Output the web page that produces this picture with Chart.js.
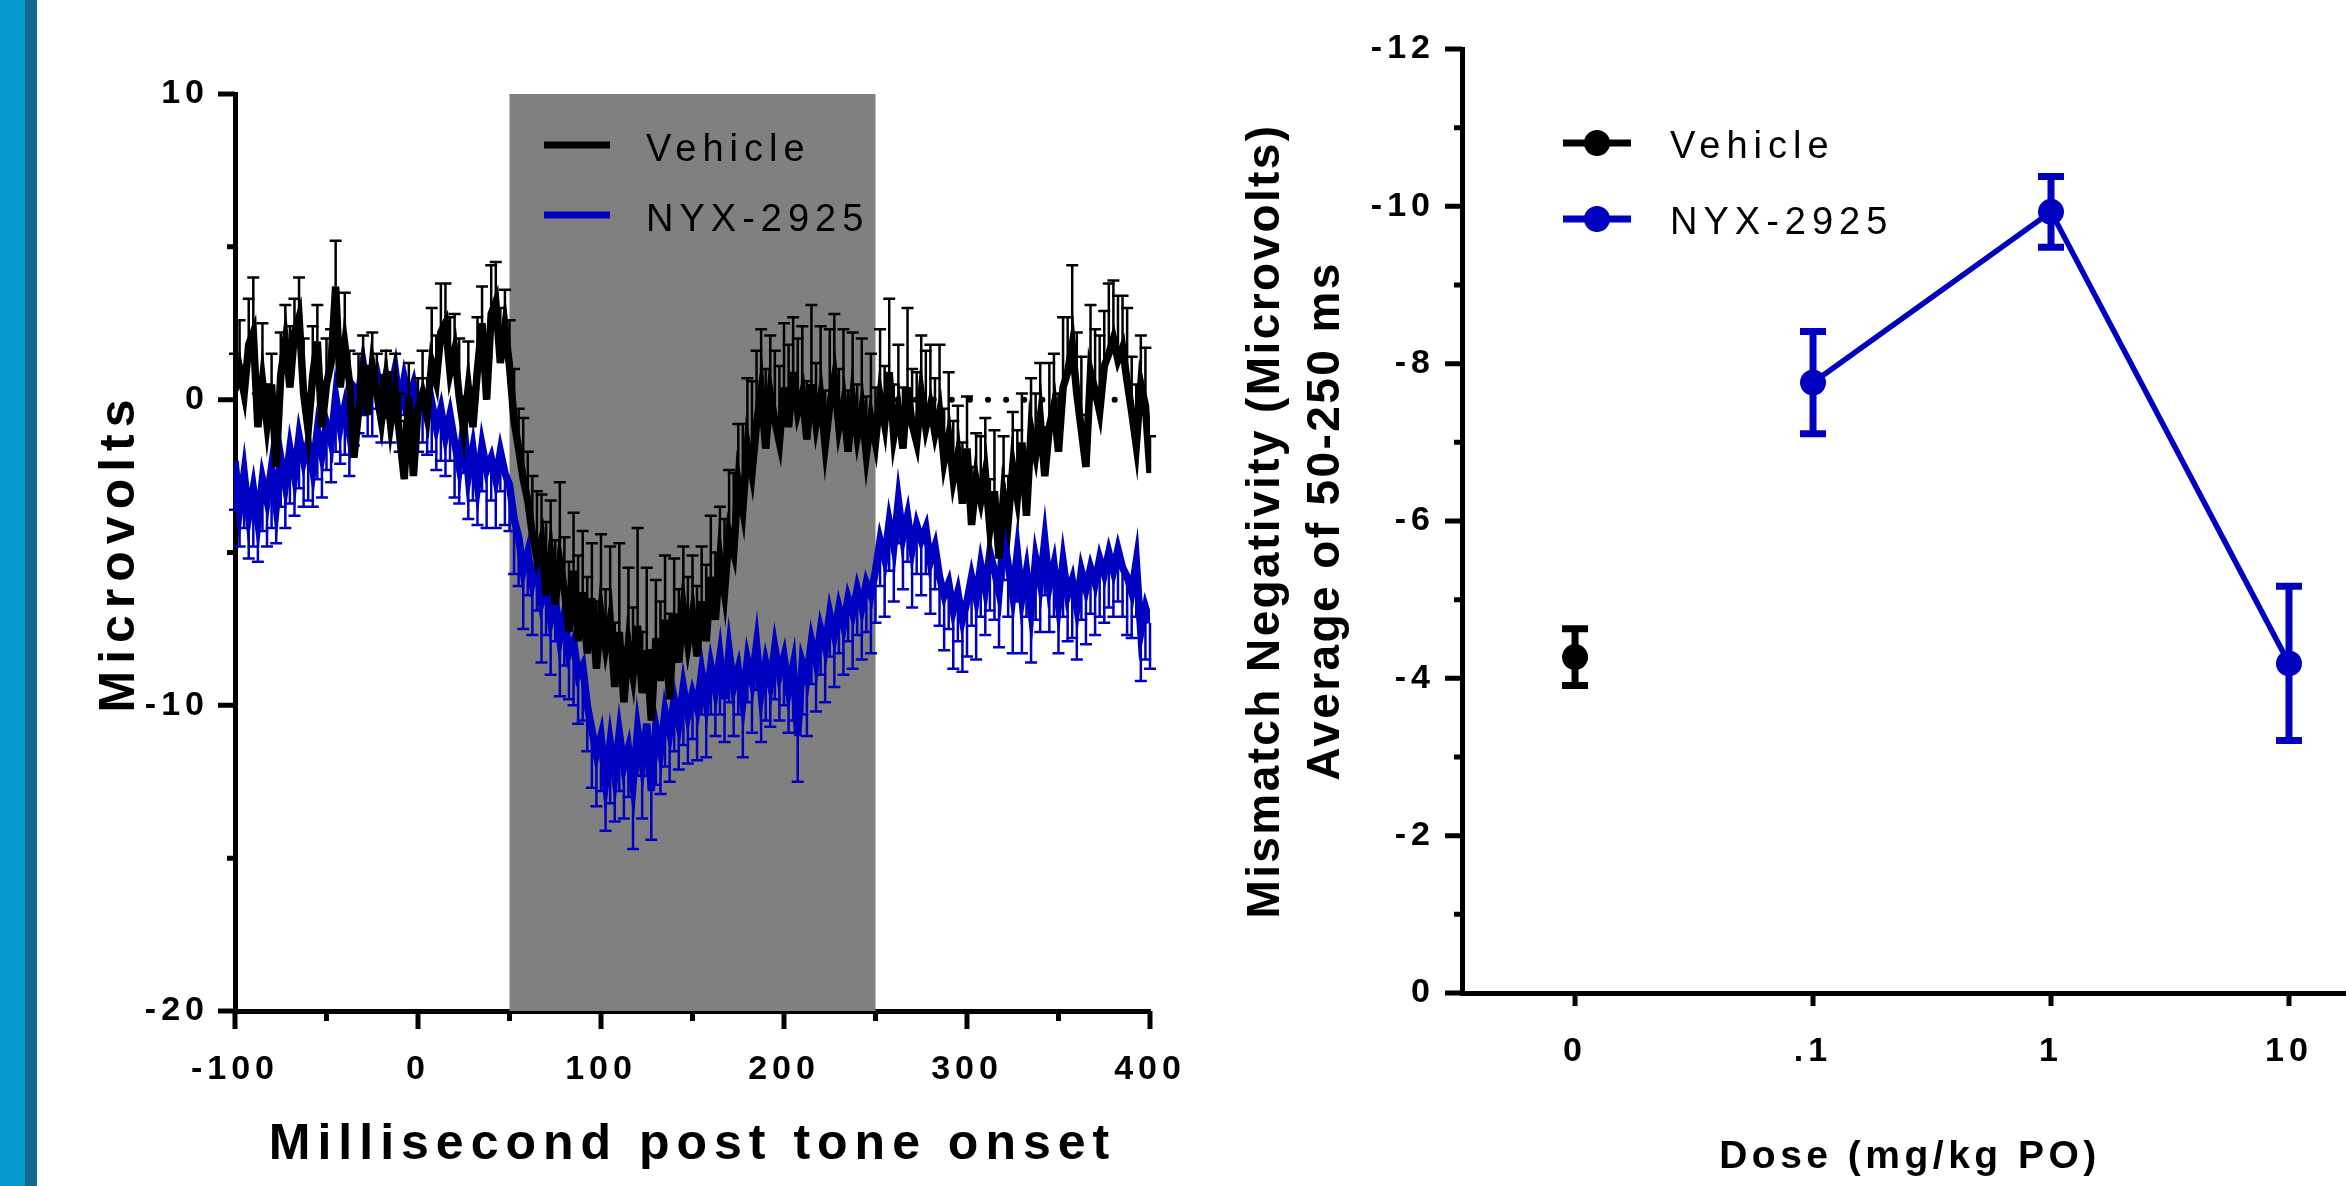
<!DOCTYPE html>
<html>
<head>
<meta charset="utf-8">
<script src="https://cdn.jsdelivr.net/npm/chart.js@4.4.1/dist/chart.umd.min.js"></script>
<style>
  html, body { margin: 0; padding: 0; background: #fff; overflow: hidden; }
  body { width: 2346px; height: 1186px; position: relative; }
  #stripe { position: absolute; left: 0; top: 0; width: 25px; height: 1186px; background: #0599D0; }
  #stripe2 { position: absolute; left: 25px; top: 0; width: 12px; height: 1186px; background: #146A8D; }
  #erp { position: absolute; left: 0; top: 0; }
  #dose { position: absolute; left: 1200px; top: 0; }
</style>
</head>
<body>
<div id="stripe"></div><div id="stripe2"></div>
<canvas id="erp" width="1200" height="1186"></canvas>
<canvas id="dose" width="1166" height="1186"></canvas>
<script>
const FONT = "'Liberation Sans', Arial, Helvetica, sans-serif";
const BLUE = '#0000C0';

// ERP traces: one sample every 2.5 ms starting at -100 ms
const T_START = -100;
const T_STEP = 2.5;

const vehicleUV = [
  0.3, 1.0, 0.2, 1.8, 2.2, -0.9, 0.6, -0.8, 0.5, -2.2,
  0.8, 1.9, 0.4, 2.2, 2.7, 0.2, -1.0, 0.8, 1.9, -0.9,
  0.5, 1.2, 3.7, 0.4, 1.8, 0.6, -1.9, -0.4, 0.9, -0.5,
  1.1, 0.2, -0.7, 0.6, -0.8, 0.3, -1.2, -2.6, 0.1, -2.5,
  -0.3, 0.2, -0.5, 1.2, 0.6, 2.2, 2.5, 0.9, 1.6, 0.1,
  -1.0, 0.4, -0.9, 1.0, 2.5, 0.0, 2.8, 3.2, 1.2, 2.4,
  1.1, -0.7, -1.6, -2.6, -3.3, -4.4, -5.2, -4.6, -6.4, -5.1,
  -6.7, -5.3, -6.2, -7.6, -5.6, -7.9, -6.3, -8.3, -6.5, -8.8,
  -7.0, -8.1, -7.2, -9.4, -7.6, -9.9, -8.0, -9.0, -7.4, -9.6,
  -8.2, -10.5, -7.8, -9.2, -7.2, -9.8, -7.0, -8.6, -6.8, -8.0,
  -7.0, -8.4, -6.6, -7.9, -5.8, -7.2, -5.2, -6.3, -4.4, -5.0,
  -2.7, -3.6, -1.5, -2.4, -0.8, 0.3, -1.6, 0.2, -0.7, -1.4,
  0.4, -0.9, 0.9, -0.4, 0.2, -1.3, 0.5, -0.8, 0.1, -1.5,
  -0.2, 0.7, -0.9, -0.1, -1.7, 0.0, -1.2, -0.3, -1.8, -0.6,
  -1.4, 0.1, -0.8, 0.9, -1.2, -0.3, -1.6, 0.4, -0.8, -1.4,
  0.2, -0.9, -0.2, -1.1, -0.4, -2.0, -1.2, -2.6, -1.8, -3.4,
  -1.6, -4.1, -2.6, -3.3, -2.4, -4.2, -3.0, -5.2, -3.1, -4.0,
  -2.2, -3.2, -1.4, -3.8, -1.0, -1.8, -0.6, -2.5, -0.9, -0.2,
  -1.7, 0.4, 0.9, 1.8, 0.2, -1.0, -2.2, 0.9, 0.3, -0.4,
  1.1, 1.5, 2.0, 1.3, 1.7, 0.6, -0.4, -1.5, 0.5, -0.2,
  -2.4
];
const vehicleSEM = [
  1.2, 1.6, 0.9, 1.5, 1.8, 1.1, 1.9, 1.3, 1.0, 1.7, 1.4, 1.2, 2.0, 1.1, 1.3, 1.8, 1.0, 1.6, 1.2, 1.4,
  1.5, 1.1, 1.5, 1.3, 1.7, 1.0, 1.4, 1.9, 1.2, 1.6, 1.1, 1.3, 1.5, 1.0, 1.7, 1.2, 1.4, 1.9, 1.1, 1.3,
  1.0, 1.4, 1.2, 1.8, 1.5, 1.6, 1.3, 1.8, 1.2, 1.9, 1.1, 1.5, 1.3, 1.7, 1.2, 1.4, 1.6, 1.3, 1.8, 1.2,
  1.5, 1.7, 1.3, 2.0, 1.6, 1.9, 2.2, 1.5, 2.4, 1.8, 2.1, 2.6, 1.7, 2.3, 1.9, 2.8, 2.0, 2.5, 1.8, 2.2,
  2.6, 1.9, 2.4, 2.1, 2.9, 1.8, 2.5, 2.2, 3.2, 2.0, 2.7, 2.3, 1.9, 2.6, 2.1, 2.8, 1.8, 2.4, 2.0, 2.2,
  1.9, 2.3, 1.8, 2.5, 2.0, 2.2, 1.7, 2.4, 2.1, 2.6, 1.9, 2.8, 2.2, 3.0, 2.4, 2.0, 2.6, 1.9, 2.3, 2.5,
  2.1, 2.7, 1.8, 2.4, 2.2, 1.9, 2.6, 2.0, 2.3, 1.8, 2.5, 2.1, 1.9, 2.4, 2.0, 2.2, 1.7, 2.3, 1.9, 2.1,
  1.8, 2.2, 1.9, 2.4, 1.7, 2.1, 2.0, 2.6, 1.8, 2.3, 1.9, 2.5, 2.0, 1.8, 2.2, 1.7, 2.1, 1.9, 1.6, 2.0,
  1.7, 1.9, 1.5, 2.1, 1.8, 1.6, 2.0, 1.7, 1.9, 1.5, 1.8, 2.2, 1.6, 1.9, 1.7, 2.0, 1.8, 1.6, 2.1, 1.7,
  1.9, 2.3, 1.8, 2.6, 2.0, 2.4, 1.7, 2.2, 2.0, 2.5, 1.8, 2.3, 1.9, 2.1, 1.7, 2.4, 1.8, 2.0, 1.6, 1.9,
  1.2
];
const nyxUV = [
  -2.0, -3.6, -2.4, -3.8, -2.9, -4.0, -2.6, -3.3, -2.2, -3.5,
  -1.9, -2.8, -1.6, -2.5, -1.2, -2.0, -1.4, -2.3, -1.0, -1.8,
  -0.8, -1.4, 0.1, -0.9, -0.2, -1.1, 0.4, 0.2, 1.2, 0.3,
  0.6, 0.9, 0.2, 0.8, 0.3, 1.0, -0.2, 0.7, 0.0, 0.5,
  -0.4, 0.1, -0.6, -0.1, -0.9, -0.3, -1.2, -0.5, -1.4, -2.2,
  -0.8, -2.5, -1.6, -2.8, -1.5, -2.3, -1.9, -2.6, -1.7, -2.4,
  -2.8, -3.9, -4.5, -5.6, -5.0, -6.0, -5.4, -6.6, -6.1, -7.2,
  -6.5, -7.8, -7.0, -8.3, -7.9, -9.0, -8.7, -10.0, -10.8, -11.6,
  -11.0, -12.5, -11.2, -12.3, -10.9, -12.0, -11.4, -12.6, -10.8, -11.9,
  -10.6, -12.8, -10.7, -11.5, -10.2, -10.9, -9.8, -10.6, -9.4, -10.3,
  -9.6, -10.1, -8.9, -9.9, -8.7, -9.5, -8.4, -9.8, -8.2, -9.4,
  -8.8, -9.9, -8.5, -9.2, -8.0, -9.6, -8.6, -9.3, -8.1, -9.0,
  -8.4, -9.5, -8.7, -11.0, -8.6, -9.1, -7.9, -8.6, -7.5, -8.1,
  -7.0, -7.7, -6.8, -7.4, -6.5, -7.0, -6.2, -6.8, -6.0, -6.4,
  -5.6, -4.6, -5.2, -4.0, -4.8, -3.3, -4.5, -3.8, -4.9, -4.1,
  -4.6, -4.2, -5.3, -4.8, -5.8, -6.4, -6.0, -6.9, -6.3, -7.2,
  -6.6, -5.8, -6.5, -5.4, -6.2, -5.0, -5.6, -6.3, -4.4, -5.4,
  -6.4, -5.0, -6.5, -5.6, -6.9, -5.2, -6.0, -4.6, -6.1, -5.4,
  -6.7, -5.3, -6.4, -5.9, -6.8, -5.6, -6.2, -5.5, -6.0, -5.2,
  -5.7, -5.0, -5.6, -4.9, -5.5, -5.8, -6.3, -5.3, -7.6, -6.8,
  -7.3
];
const nyxSEM = [
  1.6, 1.2, 1.8, 1.4, 1.9, 1.3, 1.7, 1.5, 2.0, 1.2, 1.6, 1.4, 1.8, 1.3, 1.7, 1.5, 1.9, 1.2, 1.6, 1.4,
  1.5, 1.3, 1.8, 1.2, 1.6, 1.4, 1.9, 1.3, 1.7, 1.5, 1.8, 1.2, 1.6, 1.4, 1.7, 1.3, 1.5, 1.2, 1.6, 1.4,
  1.3, 1.5, 1.2, 1.6, 1.4, 1.7, 1.3, 1.5, 1.8, 1.2, 1.6, 1.4, 1.7, 1.3, 1.5, 1.9, 1.4, 1.6, 1.3, 1.7,
  1.5, 1.8, 1.6, 1.9, 1.4, 1.7, 1.5, 2.0, 1.6, 1.8, 1.4, 1.9, 1.7, 1.5, 2.1, 1.6, 1.8, 1.5, 1.9, 1.7,
  1.8, 1.6, 2.0, 1.5, 1.9, 1.7, 1.6, 2.1, 1.5, 1.8, 1.7, 1.6, 1.9, 1.4, 1.8, 1.6, 1.7, 1.5, 1.9, 1.6,
  1.5, 1.7, 1.4, 1.8, 1.6, 1.5, 1.9, 1.4, 1.7, 1.6, 1.5, 1.8, 1.4, 1.7, 1.5, 1.6, 1.9, 1.4, 1.7, 1.5,
  1.6, 1.4, 1.8, 1.5, 1.7, 1.9, 1.4, 1.6, 1.5, 1.8, 1.4, 1.7, 1.5, 1.6, 1.4, 1.8, 1.5, 1.7, 1.6, 1.9,
  1.7, 1.5, 1.9, 1.6, 1.8, 1.4, 1.7, 1.5, 1.9, 1.6, 1.8, 1.5, 1.7, 1.4, 1.6, 1.8, 1.5, 1.9, 1.6, 1.7,
  1.8, 1.6, 2.0, 1.7, 1.5, 1.9, 1.6, 1.8, 1.5, 1.7, 1.9, 1.6, 1.8, 1.5, 1.7, 2.0, 1.6, 1.8, 1.5, 1.7,
  1.6, 1.8, 1.5, 1.9, 1.7, 1.6, 1.8, 1.5, 1.7, 1.9, 1.6, 1.8, 1.5, 1.7, 1.6, 1.9, 1.5, 1.8, 1.6, 1.7,
  1.5
];
const mmnWindow = [50, 250];   // shaded analysis window (ms)
const dottedSpan = [262, 385]; // dotted zero reference (ms)

const erpXTicks = [-100, 0, 100, 200, 300, 400];
const erpXMinor = [-50, 50, 150, 250, 350];
const erpYTicks = [-20, -10, 0, 10];
const erpYMinor = [-15, -5, 5];

// dose response, mean +/- sem
const doseLabels = ['0', '.1', '1', '10'];
const vehicleDose = [0];
const vehicleMMN = [-4.27];
const vehicleMMNsem = [0.36];
const nyxDose = [1, 2, 3];
const nyxMMN = [-7.76, -9.93, -4.19];
const nyxMMNsem = [0.65, 0.45, 0.98];
const doseYTicks = [0, -2, -4, -6, -8, -10, -12];
const doseYMinor = [-1, -3, -5, -7, -9, -11];

const toPoints = vals => vals.map((v, i) => ({ x: T_START + i * T_STEP, y: v }));
const atDoses = (idx, vals) => vals.map((v, i) => ({ x: idx[i], y: v }));

// canvas text gets letter spacing like the original figure
function spaceText(scale, titlePx, labelPx) {
  if (scale._spaced) return;
  scale._spaced = true;
  const dt = scale.drawTitle, dl = scale.drawLabels;
  scale.drawTitle = function () {
    this.ctx.save(); this.ctx.letterSpacing = titlePx + 'px';
    dt.apply(this, arguments); this.ctx.restore();
  };
  scale.drawLabels = function () {
    this.ctx.save(); this.ctx.letterSpacing = labelPx + 'px';
    dl.apply(this, arguments); this.ctx.restore();
  };
}

const errorBars = {
  id: 'errorBars',
  beforeDatasetDraw(chart, args) {
    const ds = chart.data.datasets[args.index];
    if (!ds.sem) return;
    const ctx = chart.ctx, ys = chart.scales.y;
    ctx.save();
    ctx.strokeStyle = ds.borderColor;
    ctx.lineWidth = ds.semWidth;
    ctx.beginPath();
    args.meta.data.forEach((pt, i) => {
      const v = ds.data[i].y, e = ds.sem[i];
      const ends = ds.semDir === 'up' ? [v + e] : ds.semDir === 'down' ? [v - e] : [v - e, v + e];
      const a = ys.getPixelForValue(ends.length === 2 ? ends[0] : v);
      const b = ys.getPixelForValue(ends[ends.length - 1]);
      ctx.moveTo(pt.x, a); ctx.lineTo(pt.x, b);
      ends.forEach(val => {
        const py = ys.getPixelForValue(val);
        ctx.moveTo(pt.x - ds.semCap / 2, py); ctx.lineTo(pt.x + ds.semCap / 2, py);
      });
    });
    ctx.stroke();
    ctx.restore();
  }
};

const shadedWindow = {
  id: 'shadedWindow',
  beforeDatasetsDraw(chart) {
    const { ctx, chartArea } = chart;
    const x0 = chart.scales.x.getPixelForValue(mmnWindow[0]);
    const x1 = chart.scales.x.getPixelForValue(mmnWindow[1]);
    ctx.save();
    ctx.fillStyle = '#808080';
    ctx.fillRect(x0, chartArea.top, x1 - x0, chartArea.bottom - chartArea.top);
    ctx.restore();
  }
};

function tickMarks(xMajor, xMinor, yMajor, yMinor, len) {
  return {
    id: 'tickMarks',
    afterDraw(chart) {
      const { ctx, chartArea } = chart;
      const xs = chart.scales.x, ys = chart.scales.y;
      ctx.save();
      ctx.strokeStyle = '#000';
      ctx.lineWidth = 5;
      ctx.beginPath();
      const xt = (vals, l) => vals.forEach(v => {
        const px = xs.getPixelForValue(v);
        ctx.moveTo(px, chartArea.bottom); ctx.lineTo(px, chartArea.bottom + l);
      });
      const yt = (vals, l) => vals.forEach(v => {
        const py = ys.getPixelForValue(v);
        ctx.moveTo(chartArea.left, py); ctx.lineTo(chartArea.left - l, py);
      });
      xt(xMajor, len.xMajor); xt(xMinor, len.xMinor);
      yt(yMajor, len.yMajor); yt(yMinor, len.yMinor);
      ctx.stroke();
      ctx.restore();
    }
  };
}

function seriesLegend(pos) {
  return {
    id: 'seriesLegend',
    afterDraw(chart) {
      const ctx = chart.ctx;
      ctx.save();
      ctx.font = '38px ' + FONT;
      ctx.letterSpacing = '6px';
      ctx.textBaseline = 'middle';
      ctx.textAlign = 'left';
      chart.data.datasets.slice(0, 2).forEach((ds, i) => {
        const y = pos.y[i];
        ctx.strokeStyle = ds.borderColor;
        ctx.fillStyle = ds.borderColor;
        ctx.lineWidth = 7;
        ctx.beginPath();
        ctx.moveTo(pos.x0, y); ctx.lineTo(pos.x1, y);
        ctx.stroke();
        if (pos.dot) {
          ctx.beginPath();
          ctx.arc((pos.x0 + pos.x1) / 2, y, pos.dot, 0, Math.PI * 2);
          ctx.fill();
        }
        ctx.fillStyle = '#000';
        ctx.fillText(ds.label, pos.tx, y + pos.dy);
      });
      ctx.restore();
    }
  };
}

const tickFont = { family: FONT, size: 34, weight: 'bold' };

new Chart(document.getElementById('erp'), {
  type: 'line',
  data: {
    datasets: [
      { label: 'Vehicle', data: toPoints(vehicleUV), sem: vehicleSEM, semDir: 'up', semWidth: 2.5, semCap: 12,
        borderColor: '#000', borderWidth: 7.5, pointRadius: 0 },
      { label: 'NYX-2925', data: toPoints(nyxUV), sem: nyxSEM, semDir: 'down', semWidth: 2.5, semCap: 12,
        borderColor: BLUE, borderWidth: 7.5, pointRadius: 0 },
      { label: 'baseline', data: [{ x: dottedSpan[0], y: 0 }, { x: dottedSpan[1], y: 0 }],
        borderColor: '#000', borderWidth: 6, borderDash: [0.1, 18], borderCapStyle: 'round', pointRadius: 0 }
    ]
  },
  options: {
    responsive: false,
    animation: false,
    layout: { autoPadding: false, padding: { top: 94, right: 50, left: 0, bottom: 0 } },
    plugins: { legend: { display: false }, tooltip: { enabled: false } },
    scales: {
      x: {
        type: 'linear', min: -100, max: 400,
        grid: { display: false, drawTicks: false },
        border: { display: true, width: 5, color: '#000' },
        afterBuildTicks: s => { s.ticks = erpXTicks.map(v => ({ value: v })); },
        afterFit: s => { s.height = 175; s.paddingLeft = 0; s.paddingRight = 0; spaceText(s, 7, 5); },
        ticks: { color: '#000', font: tickFont, padding: 38, maxRotation: 0, autoSkip: false, callback: v => String(v) },
        title: { display: true, text: 'Millisecond post tone onset', color: '#000',
          font: { family: FONT, size: 50, weight: 'bold', lineHeight: 1.2 }, padding: { top: 0, bottom: 11 } }
      },
      y: {
        type: 'linear', min: -20, max: 10,
        grid: { display: false, drawTicks: false },
        border: { display: true, width: 5, color: '#000' },
        afterBuildTicks: s => { s.ticks = erpYTicks.map(v => ({ value: v })); },
        afterFit: s => { s.width = 235; s.paddingTop = 0; s.paddingBottom = 0; spaceText(s, 7, 5); },
        ticks: { color: '#000', font: tickFont, padding: 26, callback: v => String(v) },
        title: { display: true, text: 'Microvolts', color: '#000',
          font: { family: FONT, size: 50, weight: 'bold', lineHeight: 1.2 }, padding: { top: 90, bottom: 0 } }
      }
    }
  },
  plugins: [shadedWindow, errorBars,
    tickMarks(erpXTicks, erpXMinor, erpYTicks, erpYMinor, { xMajor: 18, xMinor: 10, yMajor: 17, yMinor: 8 }),
    seriesLegend({ x0: 544, x1: 610, tx: 646, y: [145, 215], dot: 0, dy: 6 })]
});

new Chart(document.getElementById('dose'), {
  type: 'line',
  data: {
    datasets: [
      { label: 'Vehicle', data: atDoses(vehicleDose, vehicleMMN), sem: vehicleMMNsem, semDir: 'both', semWidth: 7, semCap: 26,
        borderColor: '#000', backgroundColor: '#000', borderWidth: 5.5,
        pointRadius: 13, pointBorderWidth: 0, pointBackgroundColor: '#000' },
      { label: 'NYX-2925', data: atDoses(nyxDose, nyxMMN), sem: nyxMMNsem, semDir: 'both', semWidth: 7, semCap: 26,
        borderColor: BLUE, backgroundColor: BLUE, borderWidth: 5.5,
        pointRadius: 13, pointBorderWidth: 0, pointBackgroundColor: BLUE }
    ]
  },
  options: {
    responsive: false,
    animation: false,
    layout: { autoPadding: false, padding: { top: 49, right: 8, left: 0, bottom: 0 } },
    plugins: { legend: { display: false }, tooltip: { enabled: false } },
    scales: {
      x: {
        type: 'linear', min: -0.475, max: 3.29,
        grid: { display: false, drawTicks: false },
        border: { display: true, width: 5, color: '#000' },
        afterBuildTicks: s => { s.ticks = doseLabels.map((_, i) => ({ value: i })); },
        afterFit: s => { s.height = 193; s.paddingLeft = 0; s.paddingRight = 0; spaceText(s, 4.5, 5); },
        ticks: { color: '#000', font: tickFont, padding: 38, maxRotation: 0, autoSkip: false, callback: v => doseLabels[v] },
        title: { display: true, text: 'Dose (mg/kg PO)', color: '#000',
          font: { family: FONT, size: 39, weight: 'bold', lineHeight: 1.2 }, padding: { top: 0, bottom: 5 } }
      },
      y: {
        type: 'linear', min: -12, max: 0, reverse: true,
        grid: { display: false, drawTicks: false },
        border: { display: true, width: 5, color: '#000' },
        afterBuildTicks: s => { s.ticks = doseYTicks.map(v => ({ value: v })); },
        afterFit: s => { s.width = 262; s.paddingTop = 0; s.paddingBottom = 0; spaceText(s, 2.4, 5); },
        ticks: { color: '#000', font: tickFont, padding: 27, callback: v => String(v) },
        title: { display: true, text: ['Mismatch Negativity (Microvolts)', 'Average of 50-250 ms'], color: '#000',
          font: { family: FONT, size: 46, weight: 'bold', lineHeight: 1.304 }, padding: { top: 36, bottom: 0 } }
      }
    }
  },
  plugins: [errorBars,
    tickMarks(doseLabels.map((_, i) => i), [], doseYTicks, doseYMinor, { xMajor: 13, xMinor: 0, yMajor: 17, yMinor: 8 }),
    seriesLegend({ x0: 363, x1: 431, tx: 470, y: [143, 219], dot: 13, dy: 5 })]
});
</script>
</body>
</html>
